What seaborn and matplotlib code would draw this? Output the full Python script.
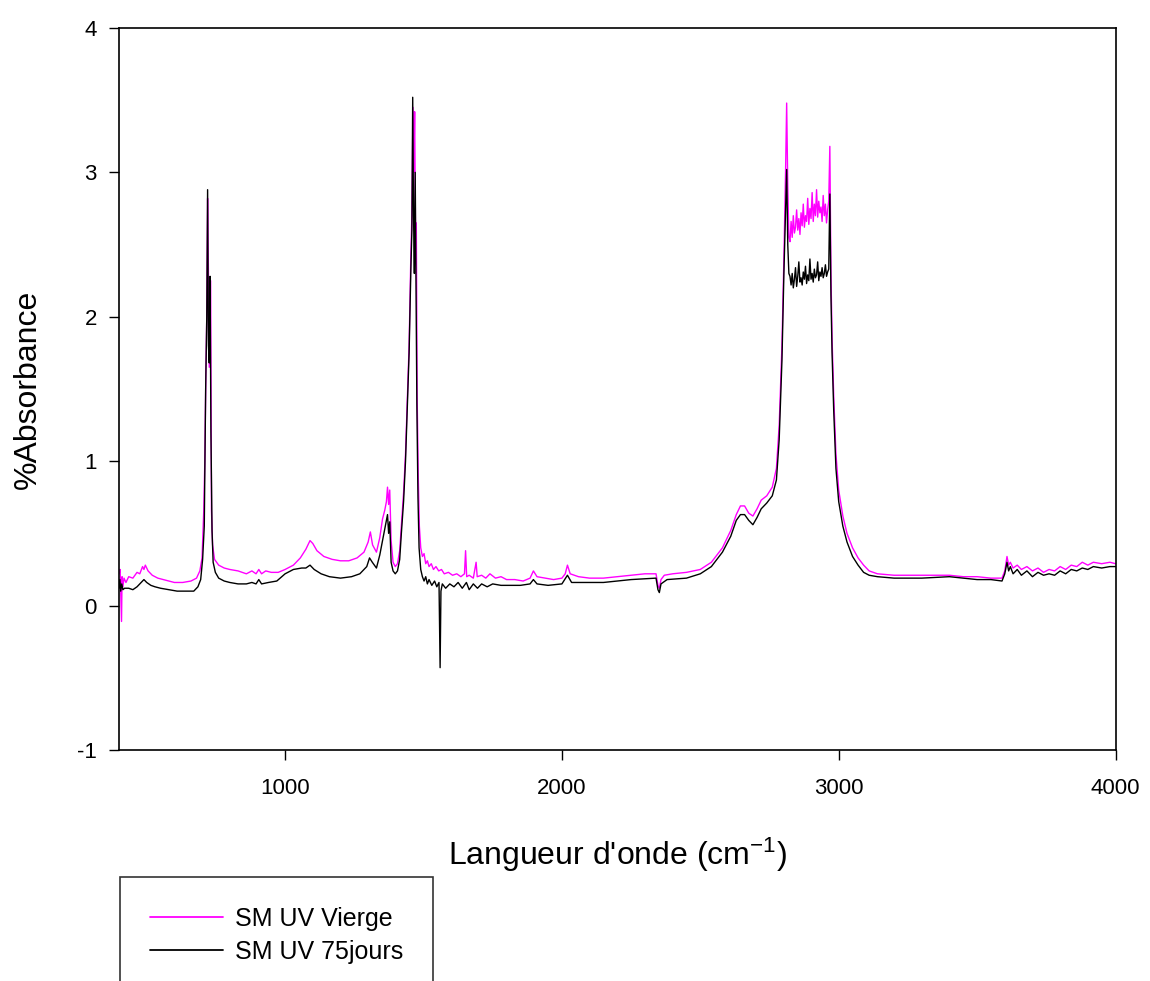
import matplotlib
matplotlib.use("Agg")
import matplotlib.pyplot as plt
import pandas as pd
import seaborn as sns

# spectres IR
wn_vierge = [400, 404, 407, 409, 411, 414, 418, 425, 435, 450, 465, 475, 485, 490, 495, 505, 520, 540, 560, 580,
             600, 630, 660, 680, 692, 700, 706, 710, 714, 717, 720, 723, 726, 729, 731, 734, 738, 745, 760, 780,
             800, 830, 860, 880, 895, 905, 915, 930, 950, 975, 1000, 1030, 1055, 1075, 1090, 1100, 1115, 1140, 1170, 1200,
             1230, 1260, 1285, 1300, 1308, 1316, 1330, 1342, 1352, 1360, 1366, 1370, 1374, 1378, 1383, 1390, 1398, 1406, 1414, 1420,
             1428, 1435, 1442, 1448, 1454, 1458, 1462, 1465, 1468, 1471, 1474, 1477, 1481, 1485, 1490, 1496, 1502, 1508, 1514, 1520,
             1528, 1536, 1545, 1555, 1565, 1575, 1590, 1605, 1620, 1635, 1648, 1652, 1656, 1665, 1680, 1690, 1694, 1710, 1725, 1740,
             1760, 1780, 1800, 1830, 1860, 1885, 1897, 1910, 1940, 1970, 2000, 2012, 2020, 2030, 2060, 2100, 2150, 2200, 2250, 2300,
             2340, 2347, 2352, 2358, 2370, 2400, 2450, 2500, 2540, 2580, 2610, 2630, 2645, 2660, 2675, 2690, 2705, 2720, 2740, 2760,
             2775, 2785, 2795, 2802, 2808, 2812, 2816, 2820,
             2824, 2828, 2832, 2836, 2840, 2844, 2848, 2852, 2856, 2860, 2864, 2868, 2872, 2876, 2880, 2884, 2888, 2892,
             2896, 2900, 2904, 2908, 2912, 2916, 2920, 2924, 2928, 2932, 2936, 2940, 2944, 2948, 2952, 2956, 2960, 2964,
             2968, 2972, 2976, 2982, 2990, 3000, 3015, 3030, 3050, 3070, 3090, 3110, 3140, 3200, 3300, 3400, 3450, 3500, 3550, 3590,
             3600, 3608, 3614, 3620, 3630, 3645, 3660, 3680, 3700, 3720, 3740, 3760, 3780, 3800, 3820, 3840, 3860, 3880, 3900, 3920,
             3950, 3980, 4000]
abs_vierge = [0.22, 0.25, 0.05, -0.11, 0.20, 0.13, 0.19, 0.16, 0.20, 0.19, 0.23, 0.22, 0.27, 0.25, 0.28, 0.24, 0.21, 0.19, 0.18, 0.17,
              0.16, 0.16, 0.17, 0.19, 0.24, 0.33, 0.65, 1.0, 1.65, 2.0, 2.82, 2.3, 1.65, 2.0, 2.25, 0.66, 0.42, 0.32, 0.28, 0.26,
              0.25, 0.24, 0.22, 0.24, 0.22, 0.25, 0.22, 0.24, 0.23, 0.23, 0.25, 0.28, 0.33, 0.39, 0.45, 0.43, 0.38, 0.34, 0.32, 0.31,
              0.31, 0.33, 0.37, 0.44, 0.51, 0.42, 0.37, 0.47, 0.60, 0.66, 0.72, 0.82, 0.70, 0.80, 0.45, 0.30, 0.27, 0.29, 0.38, 0.55,
              0.78, 1.05, 1.45, 1.8, 2.4, 2.7, 3.45, 3.0, 3.42, 2.6, 2.65, 1.45, 0.9, 0.55, 0.40, 0.34, 0.36, 0.29, 0.31, 0.27,
              0.29, 0.25, 0.27, 0.24, 0.25, 0.22, 0.23, 0.21, 0.22, 0.20, 0.22, 0.38, 0.20, 0.21, 0.19, 0.30, 0.20, 0.21, 0.19, 0.22,
              0.19, 0.20, 0.18, 0.18, 0.17, 0.19, 0.24, 0.20, 0.19, 0.18, 0.19, 0.22, 0.28, 0.22, 0.20, 0.19, 0.19, 0.20, 0.21, 0.22,
              0.22, 0.14, 0.12, 0.18, 0.21, 0.22, 0.23, 0.25, 0.30, 0.40, 0.52, 0.63, 0.69, 0.69, 0.64, 0.62, 0.67, 0.73, 0.76, 0.82,
              0.95, 1.25, 1.8, 2.4, 3.0, 3.48, 2.9, 2.55,
              2.52, 2.66, 2.55, 2.70, 2.58, 2.62, 2.74, 2.60, 2.68, 2.57, 2.72, 2.63, 2.78, 2.62, 2.70, 2.66, 2.82, 2.64,
              2.75, 2.68, 2.86, 2.66, 2.78, 2.70, 2.88, 2.69, 2.80, 2.72, 2.76, 2.66, 2.84, 2.70, 2.78, 2.65, 2.74, 2.80,
              3.18, 2.3, 1.85, 1.45, 1.05, 0.8, 0.62, 0.50, 0.40, 0.33, 0.28, 0.24, 0.22, 0.21, 0.21, 0.21, 0.20, 0.20, 0.19, 0.19,
              0.24, 0.34, 0.28, 0.30, 0.26, 0.28, 0.25, 0.27, 0.24, 0.26, 0.23, 0.25, 0.24, 0.27, 0.25, 0.28, 0.27, 0.30, 0.28, 0.30,
              0.29, 0.30, 0.29]

wn_75j = [400, 403, 406, 410, 414, 420, 435, 450, 465, 480, 490, 500, 515, 530, 550, 580, 610, 640, 670, 685,
          695, 702, 708, 713, 717, 720, 723, 726, 729, 732, 736, 740, 748, 760, 780, 800, 830, 860, 880, 895,
          905, 915, 940, 970, 1000, 1030, 1060, 1075, 1090, 1105, 1130, 1160, 1200, 1240, 1270, 1295, 1305, 1315, 1330, 1342,
          1352, 1362, 1370, 1374, 1378, 1383, 1390, 1398, 1406, 1414, 1420, 1428, 1435, 1442, 1448, 1454, 1458, 1461, 1464, 1467,
          1470, 1473, 1476, 1480, 1484, 1490, 1496, 1502, 1508, 1514, 1520, 1530, 1540, 1548, 1556, 1560, 1563, 1568, 1580, 1595,
          1610, 1625, 1640, 1655, 1665, 1680, 1695, 1710, 1730, 1750, 1780, 1810, 1850, 1885, 1897, 1910, 1950, 2000, 2020, 2035,
          2080, 2150, 2250, 2340, 2347, 2352, 2358, 2380, 2450, 2500, 2540, 2580, 2610, 2630, 2645, 2660, 2675, 2690, 2705, 2720,
          2740, 2760, 2775, 2785, 2795, 2802, 2808, 2812, 2816, 2820,
          2824, 2828, 2832, 2836, 2840, 2844, 2848, 2852, 2856, 2860, 2864, 2868, 2872, 2876, 2880, 2884, 2888, 2892,
          2896, 2900, 2904, 2908, 2912, 2916, 2920, 2924, 2928, 2932, 2936, 2940, 2944, 2948, 2952, 2956, 2960, 2964,
          2968, 2972, 2976, 2982, 2990, 3000, 3015, 3030, 3050, 3070, 3090, 3110, 3140, 3200, 3300, 3400, 3450, 3500, 3550, 3590,
          3600, 3608, 3614, 3620, 3630, 3645, 3660, 3680, 3700, 3720, 3740, 3760, 3780, 3800, 3820, 3840, 3860, 3880, 3900, 3920,
          3950, 3980, 4000]
abs_75j = [0.12, 0.18, 0.10, 0.15, 0.11, 0.12, 0.12, 0.11, 0.13, 0.16, 0.18, 0.16, 0.14, 0.13, 0.12, 0.11, 0.10, 0.10, 0.10, 0.13,
           0.18, 0.32, 0.55, 1.5, 2.0, 2.88, 1.8, 1.68, 2.28, 1.2, 0.52, 0.30, 0.23, 0.19, 0.17, 0.16, 0.15, 0.15, 0.16, 0.15,
           0.18, 0.15, 0.16, 0.17, 0.22, 0.25, 0.26, 0.26, 0.28, 0.25, 0.22, 0.20, 0.19, 0.20, 0.22, 0.27, 0.33, 0.30, 0.26, 0.35,
           0.45, 0.55, 0.63, 0.50, 0.58, 0.30, 0.24, 0.22, 0.24, 0.32, 0.50, 0.72, 1.0, 1.4, 1.75, 2.3, 2.6, 3.52, 2.7, 2.3,
           3.0, 2.25, 1.4, 0.75, 0.40, 0.25, 0.20, 0.17, 0.20, 0.15, 0.18, 0.14, 0.17, 0.13, 0.16, -0.43, 0.10, 0.15, 0.12, 0.15,
           0.13, 0.16, 0.12, 0.16, 0.11, 0.15, 0.12, 0.15, 0.13, 0.15, 0.14, 0.14, 0.14, 0.15, 0.18, 0.15, 0.14, 0.15, 0.21, 0.16,
           0.16, 0.16, 0.18, 0.19, 0.11, 0.09, 0.15, 0.18, 0.19, 0.22, 0.27, 0.37, 0.48, 0.59, 0.63, 0.63, 0.59, 0.56, 0.61, 0.67,
           0.71, 0.76, 0.87, 1.15, 1.7, 2.3, 2.75, 3.02, 2.5, 2.3,
           2.28, 2.22, 2.30, 2.20, 2.26, 2.34, 2.21, 2.28, 2.38, 2.24, 2.27, 2.22, 2.31, 2.26, 2.35, 2.23, 2.29, 2.25,
           2.40, 2.26, 2.30, 2.24, 2.33, 2.27, 2.29, 2.38, 2.25, 2.31, 2.28, 2.34, 2.27, 2.30, 2.36, 2.28, 2.31, 2.33,
           2.85, 2.15, 1.75, 1.35, 0.95, 0.72, 0.55, 0.44, 0.34, 0.28, 0.23, 0.21, 0.20, 0.19, 0.19, 0.20, 0.19, 0.18, 0.18, 0.17,
           0.22, 0.30, 0.24, 0.27, 0.22, 0.25, 0.21, 0.24, 0.20, 0.23, 0.21, 0.22, 0.21, 0.24, 0.22, 0.25, 0.24, 0.26, 0.25, 0.27,
           0.26, 0.27, 0.27]

labels = ["SM UV Vierge", "SM UV 75jours"]
couleurs = {"SM UV Vierge": "#ff00ff", "SM UV 75jours": "black"}

df = pd.concat([
    pd.DataFrame({"wn": wn_vierge, "abs": abs_vierge, "serie": labels[0]}),
    pd.DataFrame({"wn": wn_75j, "abs": abs_75j, "serie": labels[1]}),
], ignore_index=True)

sns.set_style("ticks")
plt.rcParams["font.family"] = ["Liberation Sans", "DejaVu Sans"]
plt.rcParams["mathtext.fontset"] = "custom"
plt.rcParams["mathtext.rm"] = "Liberation Sans"
plt.rcParams["mathtext.it"] = "Liberation Sans"
plt.rcParams["axes.unicode_minus"] = False
plt.rcParams["text.color"] = "black"
plt.rcParams["axes.labelcolor"] = "black"

fig = plt.figure(figsize=(11.5, 9.81), dpi=100)
ax = fig.add_axes([0.1035, 0.2355, 0.8665, 0.736])

sns.lineplot(data=df, x="wn", y="abs", hue="serie", hue_order=labels, palette=couleurs,
             estimator=None, sort=False, linewidth=1.0, ax=ax)

ax.set_xlim(400, 4000)
ax.set_ylim(-1, 4)
ax.set_xticks([1000, 2000, 3000, 4000])
ax.set_yticks([-1, 0, 1, 2, 3, 4])
ax.tick_params(direction="out", length=7, width=1.0, labelsize=16, colors="black")
ax.tick_params(axis="x", pad=13)
ax.tick_params(axis="y", pad=9)
for s in ax.spines.values():
    s.set_linewidth(1.2)
    s.set_color("black")

ax.set_xlabel(r"Langueur d'onde (cm$^{-1}$)", fontsize=23, va="center")
ax.xaxis.set_label_coords(0.5, -0.145)
ax.set_ylabel("%Absorbance", fontsize=23, va="center")
ax.yaxis.set_label_coords(-0.091, 0.5)

leg = ax.legend(loc="upper left", bbox_to_anchor=(120 / 1150, 1 - 877 / 981), bbox_transform=fig.transFigure,
                frameon=True, fancybox=False, fontsize=18, handlelength=2.9, handletextpad=0.5,
                borderpad=1.2, labelspacing=0.35, borderaxespad=0)
leg.get_frame().set_edgecolor("black")
leg.get_frame().set_linewidth(1.2)
for h in leg.get_lines():
    h.set_linewidth(1.3)

fig.savefig("out.png", dpi=100)
